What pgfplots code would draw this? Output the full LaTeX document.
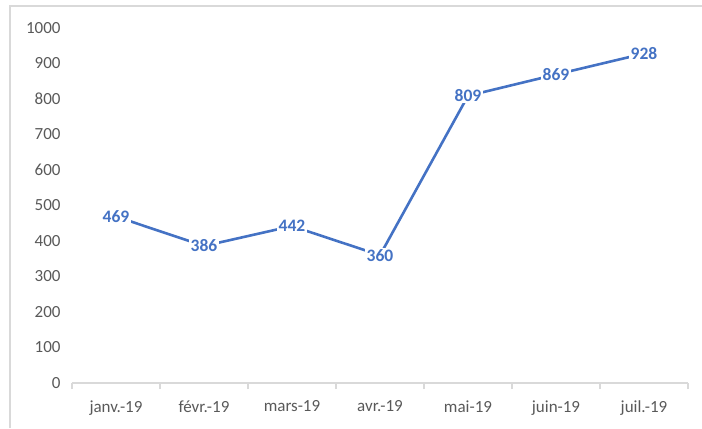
\documentclass[border=0pt]{standalone}
\usepackage{pgfplots}
\pgfplotsset{compat=1.18}
\usepackage{fontspec}
\setmainfont{Carlito}
\definecolor{lineblue}{HTML}{4472C4}
\definecolor{axgray}{HTML}{D9D9D9}
\definecolor{txtgray}{HTML}{595959}
\begin{document}
\begin{tikzpicture}[x=1bp,y=1bp]
\useasboundingbox (0,0) rectangle (702,428);
\draw[line width=1.5bp, axgray] (10,0) -- (10,422) -- (702,422);
\begin{axis}[
  at={(72bp,45bp)}, anchor=south west,
  scale only axis, width=616bp, height=355bp,
  xmin=-0.5, xmax=6.5, ymin=0, ymax=1000,
  axis x line*=bottom, axis y line*=left,
  y axis line style={draw=none},
  x axis line style={axgray, line width=1.2bp},
  xtick={0,...,6},
  xticklabels={janv.-19,févr.-19,mars-19,avr.-19,mai-19,juin-19,juil.-19},
  minor xtick={-0.5,0.5,...,6.5},
  major tick length=0pt,
  minor tick length=6bp,
  tick align=outside,
  minor tick style={axgray, line width=1.2bp},
  ytick={0,100,...,1000},
  ytick style={draw=none},
  /pgf/number format/assume math mode=true,
  /pgf/number format/1000 sep={},
  tick label style={font=\fontsize{17bp}{20bp}\selectfont, text=txtgray},
  yticklabel style={xshift=-8bp},
  xticklabel style={yshift=-14bp},
  clip=false,
]
\addplot[lineblue, line width=2.6bp,
  nodes near coords,
  nodes near coords style={anchor=center, fill=white, inner sep=1.5bp,
    font=\fontsize{17.5bp}{20bp}\selectfont\bfseries, text=lineblue,
    /pgf/number format/assume math mode=true},
] coordinates {(0,469) (1,386) (2,442) (3,360) (4,809) (5,869) (6,928)};
\end{axis}
\end{tikzpicture}
\end{document}
